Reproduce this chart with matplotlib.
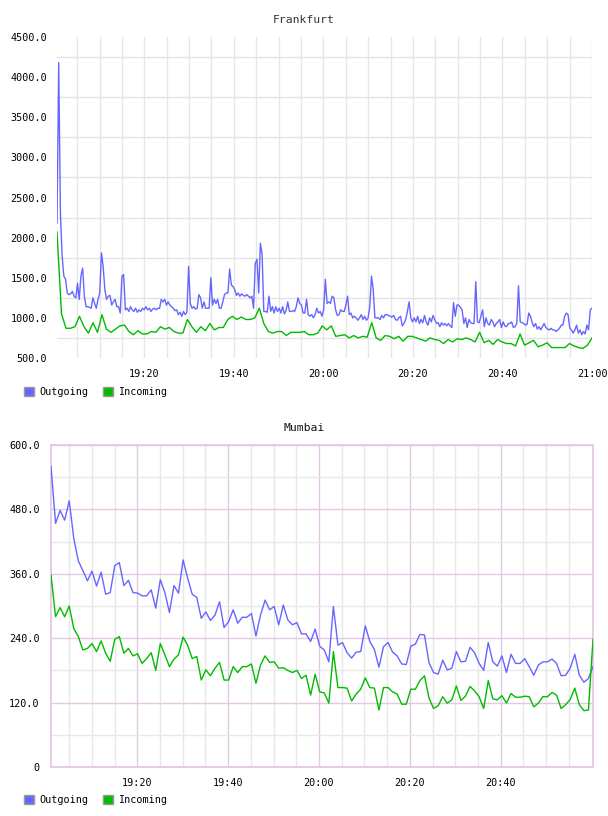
import numpy as np
import pandas as pd
import matplotlib
matplotlib.use('Agg')
from matplotlib import pyplot as plt
import matplotlib.dates as mdates
from matplotlib.patches import Patch
from matplotlib.ticker import MultipleLocator, FuncFormatter

# colours of the two series
out_color = '#6666ff'
in_color = '#00bb00'

# Frankfurt, outgoing (sampled about every 25 s) and incoming (every minute)
fra_out = [2180, 4180, 2300, 1770, 1520, 1480, 1310, 1290, 1300, 1330, 1270, 1250, 1430, 1230, 1520,
           1620, 1270, 1140, 1140, 1130, 1120, 1250, 1180, 1120, 1230, 1310, 1810, 1640, 1350, 1230,
           1270, 1280, 1160, 1200, 1230, 1140, 1140, 1060, 1520, 1540, 1100, 1120, 1080, 1140, 1100,
           1080, 1120, 1070, 1100, 1080, 1120, 1100, 1140, 1100, 1120, 1080, 1110, 1120, 1100, 1120,
           1120, 1230, 1200, 1230, 1160, 1200, 1160, 1140, 1120, 1090, 1100, 1040, 1070, 1020, 1080,
           1040, 1070, 1640, 1180, 1120, 1140, 1110, 1120, 1290, 1250, 1120, 1200, 1120, 1120, 1120,
           1500, 1160, 1230, 1180, 1230, 1120, 1120, 1200, 1290, 1310, 1310, 1610, 1410, 1390, 1350,
           1280, 1310, 1270, 1300, 1280, 1270, 1290, 1270, 1250, 1270, 1120, 1680, 1730, 1310, 1930,
           1790, 1080, 1080, 1070, 1270, 1080, 1140, 1060, 1140, 1080, 1120, 1060, 1140, 1050, 1090,
           1200, 1080, 1080, 1090, 1080, 1140,
           1250, 1180, 1160, 1060, 1060, 1230, 1040, 1020, 1040, 1000, 1040, 1120, 1060, 1080, 1020,
           1100, 1480, 1180, 1200, 1180, 1270, 1250, 1100, 1030, 1040, 1100, 1080, 1080, 1160, 1270,
           1040, 1060, 1000, 1020, 1000, 970, 1000, 1040, 980, 1020, 970, 1000, 1140, 1520, 1350,
           1000, 1000, 1000, 980, 1030, 1000, 1040, 1040, 1030, 1020, 1010, 1030, 980, 970, 1000,
           1020, 900, 930, 980, 1080, 1200, 1000, 950, 1000, 950, 1020, 930, 980, 940, 1030,
           950, 910, 1000, 950, 1030, 980, 930, 940, 890, 940, 910, 930, 900, 930, 900,
           880, 1190, 1020, 1160, 1160, 1130, 1100, 930, 1000, 880, 980, 940, 930, 930, 1450,
           950, 940, 1020, 1100, 890, 1000, 930, 910, 980, 950, 890, 930, 950, 980, 880,
           950, 900, 890, 930, 930, 950, 880, 890, 930, 1400, 950, 940, 930, 910, 920,
           1060, 1020, 940, 890, 930, 860, 890, 850, 890, 930, 880, 860, 850, 870, 850,
           850, 830, 850, 870, 910, 910, 1020, 1060, 1040, 870, 850, 810, 850, 910, 810,
           850, 790, 830, 800, 910, 850, 1100, 1120]

fra_in = [2070, 1050, 870, 870, 890, 1020, 890, 810, 940, 820, 1040, 860, 820, 860, 900, 910, 830, 790,
          840, 800, 800, 830, 820, 890, 860, 880, 830, 810, 810, 980, 890, 820, 890, 840, 930, 850,
          880, 880, 980, 1020, 980, 1010, 980, 980, 1000, 1120, 930, 830, 810, 830, 830, 780, 820,
          820, 820, 830, 790,
          790, 810, 900, 850, 900, 770, 780, 790, 750, 780, 750, 770, 760, 940, 750, 720, 780, 770,
          740, 770, 710, 770, 770, 750, 730, 710, 750, 730, 720, 680, 730, 700, 740, 730, 750, 730,
          700, 820, 690, 720, 670, 730, 700, 680, 680, 650, 800, 660, 690, 720, 640, 660, 690, 630,
          630, 630, 630, 680, 650, 630, 620, 660, 750]

# Mumbai, both every minute
mum_out = [560, 454, 478, 460, 496, 426, 384, 366, 347, 365, 337, 363, 322, 325, 375, 381, 338, 348,
           325, 324, 319, 319, 330, 296, 349, 325, 288, 338, 324, 386, 352, 322, 316, 277, 289, 273,
           283, 308, 260, 271, 293, 268, 279, 279, 286, 244, 283, 311, 293, 299, 265, 302, 274, 265,
           269, 248, 248, 234,
           257, 225, 218, 196, 299, 227, 232, 213, 203, 214, 215, 263, 234, 219, 186, 224, 232, 214,
           207, 192, 191, 225, 229, 247, 246, 194, 176, 173, 199, 181, 184, 215, 196, 197, 223, 213,
           193, 180, 232, 196, 188, 207, 176, 210, 193, 193, 202, 187, 171, 190, 196, 196, 201, 193,
           170, 171, 184, 210, 171, 158, 165, 187]

mum_in = [358, 280, 297, 280, 300, 258, 243, 218, 221, 230, 215, 235, 212, 197, 238, 243, 212, 221,
          207, 211, 193, 202, 213, 180, 230, 209, 187, 201, 209, 242, 227, 202, 206, 162, 181, 170,
          184, 195, 162, 162, 187, 176, 187, 187, 192, 156, 190, 207, 195, 196, 184, 185, 180, 176,
          180, 165, 171, 134,
          173, 140, 138, 119, 215, 148, 148, 147, 123, 136, 145, 166, 148, 147, 106, 148, 148, 140,
          136, 117, 117, 145, 145, 161, 170, 128, 109, 114, 131, 119, 125, 151, 124, 132, 150, 142,
          131, 109, 161, 127, 125, 133, 119, 137, 130, 130, 132, 131, 112, 119, 131, 131, 139, 134,
          109, 116, 126, 147, 116, 105, 106, 238]

fra_start, fra_end = '2024-01-01 19:00:30', '2024-01-01 21:00:00'
mum_start, mum_end = '2024-01-01 19:01:00', '2024-01-01 21:00:20'

fra_out_t = pd.date_range(fra_start, fra_end, periods=len(fra_out))
fra_in_t = pd.date_range(fra_start, fra_end, periods=len(fra_in))
mum_out_t = pd.date_range(mum_start, mum_end, periods=len(mum_out))
mum_in_t = pd.date_range(mum_start, mum_end, periods=len(mum_in))

mono = 'DejaVu Sans Mono'
plt.rcParams['font.family'] = mono
plt.rcParams['font.size'] = 7.3

minor_min = [5, 10, 15, 25, 30, 35, 45, 50, 55]

fig = plt.figure(figsize=(6.08, 8.16), dpi=100)
ax1 = fig.add_axes([57/608, 1-358/816, 535/608, 321/816])
ax2 = fig.add_axes([51/608, 1-767/816, 542/608, 322/816])

# --- Frankfurt ---
ax1.plot(fra_out_t, fra_out, color=out_color, lw=1.0, zorder=3)
ax1.plot(fra_in_t, fra_in, color=in_color, lw=1.0, zorder=3)
ax1.set_xlim(fra_out_t[0], fra_out_t[-1])
ax1.set_ylim(500, 4500)
ax1.yaxis.set_major_locator(MultipleLocator(500))
ax1.set_yticks(np.arange(750, 4500, 500), minor=True)
ax1.yaxis.set_major_formatter(FuncFormatter(lambda v, p: '%.1f' % v))
ax1.grid(True, axis='y', which='minor', color='#e3e3e3', lw=1.0)
ax1.xaxis.set_major_locator(mdates.MinuteLocator(byminute=[0, 20, 40]))
ax1.xaxis.set_minor_locator(mdates.MinuteLocator(byminute=minor_min))
ax1.xaxis.set_major_formatter(mdates.DateFormatter('%H:%M'))
ax1.grid(True, axis='x', which='both', color='#e6e6e6', lw=1.0)
for s in ax1.spines.values():
    s.set_visible(False)
ax1.tick_params(which='both', length=0)
ax1.tick_params(axis='y', pad=7)
ax1.tick_params(axis='x', pad=8)
fig.text(0.5, 1-20/816, 'Frankfurt', ha='center', va='center', fontsize=8.2, color='#333333')

# --- Mumbai ---
pink = '#e3c8e3'
ax2.plot(mum_out_t, mum_out, color=out_color, lw=1.0, zorder=3)
ax2.plot(mum_in_t, mum_in, color=in_color, lw=1.0, zorder=3)
ax2.set_xlim(mum_out_t[0], mum_out_t[-1])
ax2.set_ylim(0, 600)
ax2.yaxis.set_major_locator(MultipleLocator(120))
ax2.yaxis.set_minor_locator(MultipleLocator(60))
ax2.yaxis.set_major_formatter(FuncFormatter(lambda v, p: '0' if v == 0 else '%.1f' % v))
# no 21:00 label on this one
rule = mdates.rrulewrapper(mdates.MINUTELY, byhour=[19, 20], byminute=[0, 20, 40], bysecond=0)
ax2.xaxis.set_major_locator(mdates.RRuleLocator(rule))
ax2.xaxis.set_minor_locator(mdates.MinuteLocator(byminute=minor_min))
ax2.xaxis.set_major_formatter(mdates.DateFormatter('%H:%M'))
ax2.grid(True, which='minor', color='#e8e8e8', lw=1.0)
ax2.grid(True, which='major', color=pink, lw=1.0)
for s in ax2.spines.values():
    s.set_color(pink)
    s.set_linewidth(1.3)
ax2.tick_params(which='both', length=0)
ax2.tick_params(axis='y', pad=8)
ax2.tick_params(axis='x', pad=8)
fig.text(0.5, 1-428/816, 'Mumbai', ha='center', va='center', fontsize=8.2, color='#111111')

# legends under each panel
handles = [Patch(facecolor=out_color, edgecolor='#999999', label='Outgoing'),
           Patch(facecolor=in_color, edgecolor='#999999', label='Incoming')]
for ypos in [1-392/816, 1-800/816]:
    fig.legend(handles=handles, loc='center left', bbox_to_anchor=(0.039, ypos), ncol=2,
               frameon=False, handlelength=1.0, handleheight=1.0, handletextpad=0.5,
               columnspacing=1.5, borderaxespad=0, borderpad=0)

plt.savefig('out.png', dpi=100)
